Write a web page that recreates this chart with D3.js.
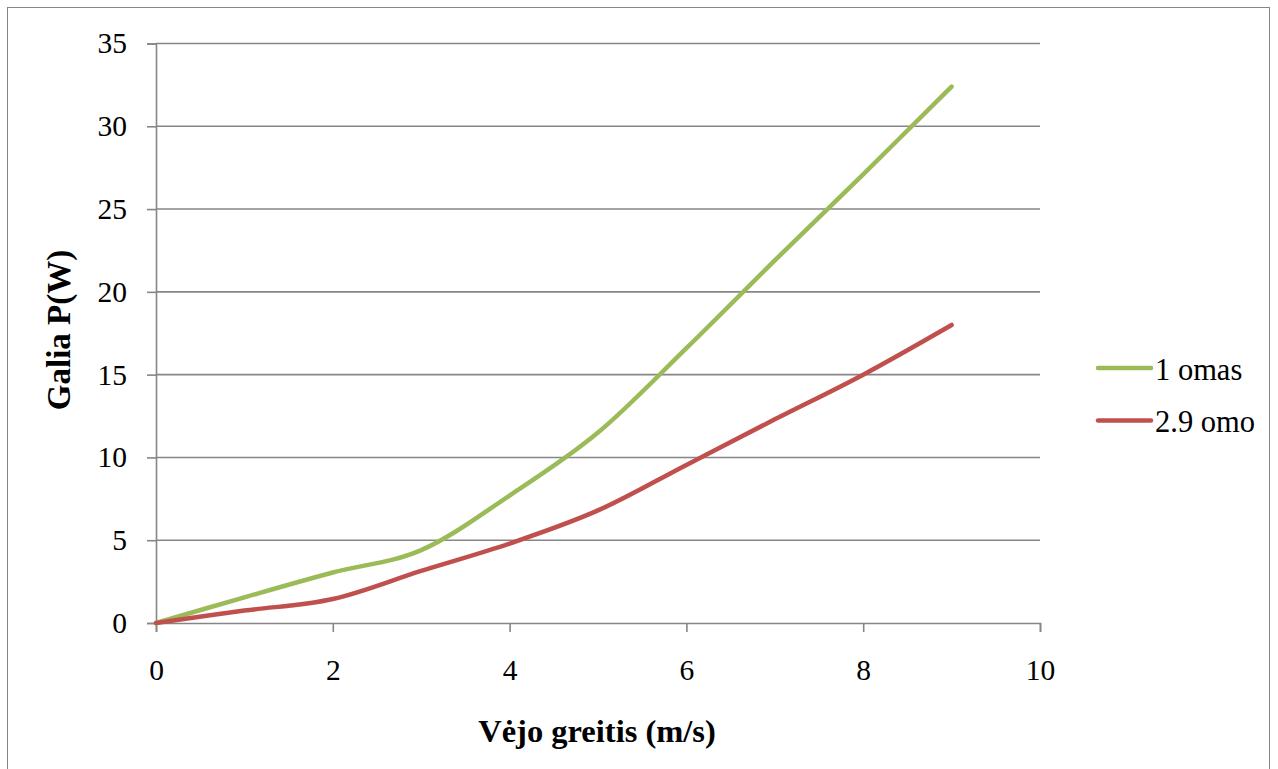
<!DOCTYPE html>
<html>
<head>
<meta charset="utf-8">
<script src="https://cdn.jsdelivr.net/npm/d3@7"></script>
<style>
  html, body { margin: 0; padding: 0; background: #fff; }
  svg { display: block; }
  text { font-family: "Liberation Serif", "Times New Roman", serif; fill: #000; }
</style>
</head>
<body>
<svg id="chart" width="1278" height="769"></svg>
<script>
const windSpeed = [0, 1, 2, 3, 4, 5, 6, 7, 8, 9];
const power1Ohm = [0, 1.55, 3.05, 4.4, 7.7, 11.5, 16.6, 21.9, 27.1, 32.4];
const power29Ohm = [0, 0.75, 1.45, 3.15, 4.8, 6.8, 9.55, 12.3, 15.0, 18.0];
const seriesNames = ["1 omas", "2.9 omo"];
const seriesColors = ["#9BBB59", "#C0504D"];
const xTicks = [0, 2, 4, 6, 8, 10];
const yTicks = [0, 5, 10, 15, 20, 25, 30, 35];
const xTitle = "Vėjo greitis (m/s)";
const yTitle = "Galia P(W)";

const svg = d3.select("#chart");
const m = { left: 156, right: 1040, top: 43.5, bottom: 623 };
const tickFont = 29.5;

// outer border
svg.append("rect").attr("x", 7.5).attr("y", 7.5).attr("width", 1262).attr("height", 780)
  .attr("fill", "none").attr("stroke", "#868686").attr("stroke-width", 1);

const x = d3.scaleLinear().domain([0, 10]).range([m.left, m.right]);
const y = d3.scaleLinear().domain([0, 35]).range([m.bottom, m.top]);

// gridlines
svg.append("g").selectAll("line").data(yTicks.filter(d => d > 0)).join("line")
  .attr("x1", m.left).attr("x2", m.right)
  .attr("y1", d => y(d)).attr("y2", d => y(d))
  .attr("stroke", "#868686").attr("stroke-width", 1.6);

// x axis
const xAxis = svg.append("g").attr("transform", `translate(0,${m.bottom})`)
  .call(d3.axisBottom(x).tickValues(xTicks).tickSize(9).tickPadding(27).tickFormat(d3.format("d")));
xAxis.select(".domain").attr("stroke", "#868686").attr("stroke-width", 1.6);
xAxis.selectAll(".tick line").attr("stroke", "#868686").attr("stroke-width", 1.6);
xAxis.selectAll(".tick text").attr("font-size", tickFont).attr("font-family", "Liberation Serif").attr("fill", "#000");

// y axis
const yAxis = svg.append("g").attr("transform", `translate(${m.left},0)`)
  .call(d3.axisLeft(y).tickValues(yTicks).tickSize(9).tickPadding(20).tickFormat(d3.format("d")));
yAxis.select(".domain").attr("stroke", "#868686").attr("stroke-width", 1.6);
yAxis.selectAll(".tick line").attr("stroke", "#868686").attr("stroke-width", 1.6);
yAxis.selectAll(".tick text").attr("font-size", tickFont).attr("font-family", "Liberation Serif").attr("fill", "#000");

// lines
const allSeries = [power1Ohm, power29Ohm];
const line = d3.line()
  .x((d, i) => x(windSpeed[i]))
  .y(d => y(d))
  .curve(d3.curveCardinal.tension(0));

allSeries.forEach((s, k) => {
  svg.append("path").datum(s)
    .attr("d", line)
    .attr("fill", "none")
    .attr("stroke", seriesColors[k])
    .attr("stroke-width", 4.5)
    .attr("stroke-linecap", "round")
    .attr("stroke-linejoin", "round");
});

// axis titles
svg.append("text").attr("x", 597).attr("y", 742)
  .attr("text-anchor", "middle").attr("font-size", 32.5).attr("font-weight", "bold")
  .text(xTitle);
svg.append("text")
  .attr("transform", `translate(70,330) rotate(-90)`)
  .attr("text-anchor", "middle").attr("font-size", 33).attr("font-weight", "bold")
  .text(yTitle);

// legend
const legend = svg.append("g");
seriesNames.forEach((name, k) => {
  const ly = 368 + k * 52.5;
  legend.append("line").attr("x1", 1098).attr("x2", 1151).attr("y1", ly).attr("y2", ly)
    .attr("stroke", seriesColors[k]).attr("stroke-width", 4.5).attr("stroke-linecap", "round");
  legend.append("text").attr("x", 1155).attr("y", ly + 11.5).attr("font-size", 30.5).text(name);
});
</script>
</body>
</html>
